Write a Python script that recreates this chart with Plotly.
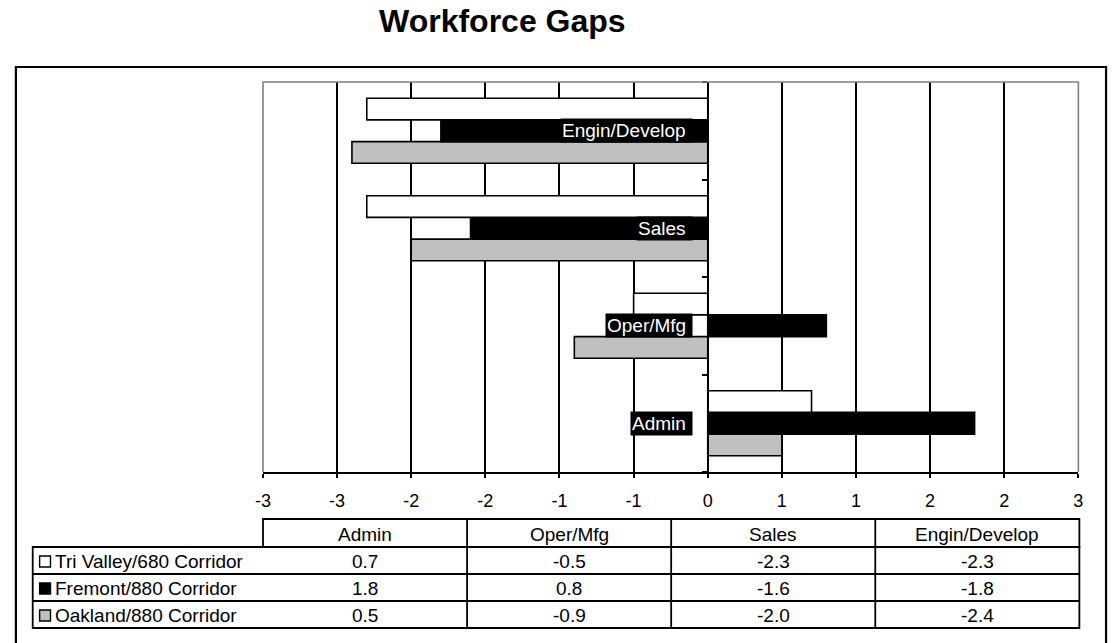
import plotly.graph_objects as go

# ---- data -------------------------------------------------------------
categories = ["Admin", "Oper/Mfg", "Sales", "Engin/Develop"]
series_names = ["Tri Valley/680 Corridor", "Fremont/880 Corridor", "Oakland/880 Corridor"]
tri_valley = [0.7, -0.5, -2.3, -2.3]
fremont = [1.8, 0.8, -1.6, -1.8]
oakland = [0.5, -0.9, -2.0, -2.4]
tick_values = [-3, -2.5, -2, -1.5, -1, -0.5, 0, 0.5, 1, 1.5, 2, 2.5]
tick_labels = ["-3", "-3", "-2", "-2", "-1", "-1", "0", "1", "1", "2", "2", "3"]

series_values = [tri_valley, fremont, oakland]
series_fills = ["white", "black", "#c0c0c0"]

# ---- page geometry (pixels) -------------------------------------------
W, H = 1115, 643
FONT = "Liberation Sans, Arial, sans-serif"
BODY = 19
LW = 1.6


def px(x):
    return x / W


def py(y):
    return 1 - y / H


PLOT_L, PLOT_R, PLOT_T, PLOT_B = 258, 1083, 82, 472
X_MIN, X_MAX = -3, 2.5
x_dom = [px(PLOT_L), px(PLOT_R)]
zero_pos = x_dom[0] + (0 - X_MIN) / (X_MAX - X_MIN) * (x_dom[1] - x_dom[0])

fig = go.Figure()

# grouped bars; added bottom-first so Tri Valley sits on top of each group
for name, vals, fill in reversed(list(zip(series_names, series_values, series_fills))):
    fig.add_trace(go.Bar(
        name=name, y=categories, x=vals, orientation="h",
        marker=dict(color=fill, line=dict(color="black", width=LW)),
        hoverinfo="x+name",
    ))

shapes = []
annotations = []

# plot-area frame (grey on left / top / right)
shapes.append(dict(type="path", xref="x domain", yref="y domain",
                   path="M0,0 L0,1 L1,1 L1,0",
                   line=dict(color="#808080", width=LW), layer="above"))

# category labels: white text on black boxes beside the zero axis
for cat in categories:
    annotations.append(dict(
        x=0, y=cat, xref="x", yref="y", text=cat + " ", showarrow=False,
        xanchor="right", yanchor="middle", xshift=-15,
        bgcolor="black", borderpad=1,
        font=dict(family=FONT, size=BODY, color="white"),
    ))

# title
annotations.append(dict(
    x=px(500), y=py(21), xref="paper", yref="paper", text="<b>Workforce Gaps</b>",
    showarrow=False, xanchor="center", yanchor="middle",
    font=dict(family=FONT, size=32, color="black"),
))

# outer chart border
shapes.append(dict(type="rect", xref="paper", yref="paper",
                   x0=px(8), x1=px(1111), y0=py(665), y1=py(67),
                   line=dict(color="black", width=2.2)))

# ---- data table -----------------------------------------------------
TBL_L, TBL_R = 258, 1084
LBL_L = 25
row_edges = [519, 547, 574, 601, 628]
ncol = len(categories)
col_w = (TBL_R - TBL_L) / ncol
col_edges = [TBL_L + i * col_w for i in range(ncol + 1)]
TL = dict(color="black", width=1.8)

# header frame
shapes.append(dict(type="rect", xref="paper", yref="paper",
                   x0=px(TBL_L), x1=px(TBL_R), y0=py(row_edges[1]), y1=py(row_edges[0]),
                   line=TL))
# body frame
shapes.append(dict(type="rect", xref="paper", yref="paper",
                   x0=px(LBL_L), x1=px(TBL_R), y0=py(row_edges[-1]), y1=py(row_edges[1]),
                   line=TL))
for y in row_edges[2:-1]:
    shapes.append(dict(type="line", xref="paper", yref="paper",
                       x0=px(LBL_L), x1=px(TBL_R), y0=py(y), y1=py(y), line=TL))
for x in col_edges[1:-1]:
    shapes.append(dict(type="line", xref="paper", yref="paper",
                       x0=px(x), x1=px(x), y0=py(row_edges[0]), y1=py(row_edges[-1]), line=TL))

cell_font = dict(family=FONT, size=BODY, color="black")
for i, cat in enumerate(categories):
    cx = (col_edges[i] + col_edges[i + 1]) / 2
    annotations.append(dict(x=px(cx), y=py((row_edges[0] + row_edges[1]) / 2 + 1),
                            xref="paper", yref="paper", text=cat, showarrow=False,
                            xanchor="center", yanchor="middle", font=cell_font))

for r, (name, vals, fill) in enumerate(zip(series_names, series_values, series_fills)):
    top, bot = row_edges[r + 1], row_edges[r + 2]
    cy = (top + bot) / 2 + 1
    # legend key
    shapes.append(dict(type="rect", xref="paper", yref="paper",
                       x0=px(32), x1=px(43), y0=py(cy + 5.5), y1=py(cy - 5.5),
                       fillcolor=fill, line=dict(color="black", width=1.4)))
    annotations.append(dict(x=px(46), y=py(cy), xref="paper", yref="paper",
                            text=name, showarrow=False, xanchor="left",
                            yanchor="middle", font=cell_font))
    for i, v in enumerate(vals):
        cx = (col_edges[i] + col_edges[i + 1]) / 2
        annotations.append(dict(x=px(cx), y=py(cy), xref="paper", yref="paper",
                                text=f"{v:.1f}", showarrow=False,
                                xanchor="center", yanchor="middle", font=cell_font))

fig.update_layout(
    width=W, height=H, autosize=False,
    margin=dict(l=0, r=0, t=0, b=0),
    paper_bgcolor="white", plot_bgcolor="white",
    barmode="group", bargap=1 / 3, bargroupgap=0,
    showlegend=False,
    font=dict(family=FONT, size=BODY, color="black"),
    xaxis=dict(
        domain=x_dom, range=[X_MIN, X_MAX], anchor="y",
        tickmode="array", tickvals=tick_values, ticktext=tick_labels,
        showgrid=True, gridcolor="black", gridwidth=LW,
        zeroline=False, showline=True, linecolor="black", linewidth=LW,
        ticks="outside", ticklen=4, tickcolor="black", tickwidth=LW,
        tickfont=dict(family=FONT, size=BODY - 1, color="black"),
        ticklabelstandoff=8,
        fixedrange=True,
    ),
    yaxis=dict(
        domain=[py(PLOT_B), py(PLOT_T)], anchor="free", position=zero_pos,
        type="category", categoryorder="array", categoryarray=categories,
        showgrid=False, zeroline=False, showticklabels=False,
        showline=True, linecolor="black", linewidth=LW,
        ticks="outside", tickson="boundaries", ticklen=5,
        tickcolor="black", tickwidth=LW,
        fixedrange=True,
    ),
    shapes=shapes,
    annotations=annotations,
)

fig.write_html("out.html")
